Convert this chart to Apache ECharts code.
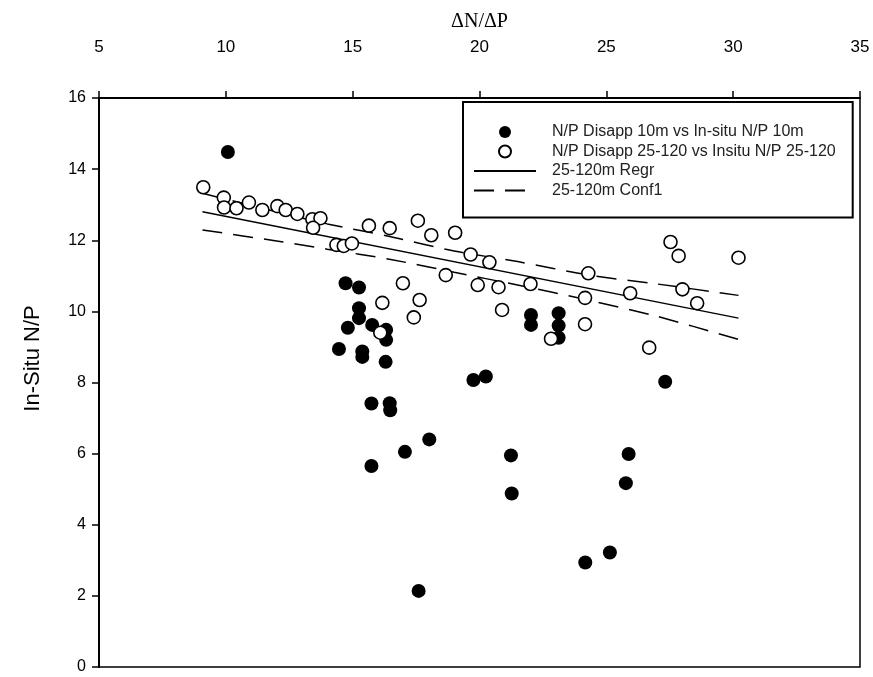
<!DOCTYPE html>
<html><head><meta charset="utf-8">
<script src="https://cdn.jsdelivr.net/npm/echarts@6/dist/echarts.min.js"></script>
<style>html,body{margin:0;padding:0;background:#fff}#c{width:873px;height:677px}</style>
</head><body><div id="c"></div>
<script>
// x tick range / y tick range
const xTicks = [5, 10, 15, 20, 25, 30, 35];
const yTicks = [0, 2, 4, 6, 8, 10, 12, 14, 16];

// N/P Disapp 10m vs In-situ N/P 10m (filled)
const surfX = [10.08,14.72,15.25,15.25,15.25,14.81,15.77,16.32,16.32,14.46,15.38,15.38,16.30,22.03,22.03,23.12,23.12,23.12,19.76,20.25,15.74,16.46,16.48,18.02,17.06,15.74,21.24,21.27,25.88,25.77,24.17,25.14,17.60,27.32];
const surfY = [14.48,10.79,10.67,10.09,9.81,9.54,9.62,9.48,9.20,8.94,8.87,8.72,8.58,9.90,9.62,9.95,9.60,9.26,8.07,8.17,7.41,7.42,7.22,6.40,6.05,5.65,5.95,4.88,5.99,5.17,2.94,3.22,2.14,8.02];

// N/P Disapp 25-120 vs Insitu N/P 25-120 (open)
const deepX = [9.11,9.92,9.93,10.42,10.91,11.44,12.03,12.36,12.82,13.41,13.73,13.44,14.36,14.65,14.97,15.64,16.46,17.57,18.10,19.04,19.65,20.39,18.67,19.93,20.75,16.98,16.17,17.64,17.41,20.89,16.09,22.01,24.29,24.16,25.94,28.00,28.58,27.53,27.85,30.21,24.16,22.82,26.69];
const deepY = [13.49,13.20,12.92,12.90,13.06,12.85,12.96,12.85,12.74,12.59,12.62,12.35,11.87,11.84,11.91,12.41,12.34,12.55,12.14,12.21,11.60,11.38,11.02,10.74,10.68,10.79,10.24,10.32,9.83,10.04,9.40,10.77,11.07,10.38,10.51,10.62,10.23,11.95,11.56,11.51,9.64,9.23,8.98];

// 25-120m regression and confidence band
const regrX = [9.08, 30.21];
const regrY = [12.80, 9.81];
const confX = [9.08, 12.0, 14.0, 16.5, 19.0, 21.5, 24.33, 27.0, 30.21];
const confUpY = [13.32, 12.80, 12.46, 12.10, 11.70, 11.40, 11.02, 10.77, 10.45];
const confLoY = [12.29, 11.98, 11.75, 11.46, 11.10, 10.74, 10.31, 9.86, 9.21];

const names = ['N/P Disapp 10m vs In-situ N/P 10m', 'N/P Disapp 25-120 vs Insitu N/P 25-120', '25-120m Regr', '25-120m Conf1'];
const zip = (a, b) => a.map((v, i) => [v, b[i]]);

const SANS = 'Liberation Sans, Arial, sans-serif';
const chart = echarts.init(document.getElementById('c'), null, {renderer: 'canvas'});
chart.setOption({
  animation: false,
  backgroundColor: '#fff',
  grid: {left: 99, right: 13, top: 98, bottom: 10, show: true, borderColor: '#000', borderWidth: 1.5, backgroundColor: 'transparent'},
  xAxis: {
    type: 'value', position: 'top', min: xTicks[0], max: xTicks[xTicks.length - 1], interval: 5,
    name: 'ΔN/ΔP', nameLocation: 'middle', nameGap: 66,
    nameTextStyle: {fontFamily: 'Liberation Serif, Times New Roman, serif', fontSize: 20, color: '#000'},
    axisLine: {onZero: false, lineStyle: {color: '#000', width: 2}},
    axisTick: {inside: false, length: 7, lineStyle: {color: '#000', width: 1.5}},
    axisLabel: {fontFamily: SANS, fontSize: 17, color: '#000', margin: 42},
    splitLine: {show: false}
  },
  yAxis: {
    type: 'value', min: yTicks[0], max: yTicks[yTicks.length - 1], interval: 2,
    name: 'In-Situ N/P', nameLocation: 'middle', nameGap: 55,
    nameTextStyle: {fontFamily: SANS, fontSize: 22, color: '#000', padding: [0, 0, 0, 48]},
    axisLine: {onZero: false, lineStyle: {color: '#000', width: 2}},
    axisTick: {inside: false, length: 7, lineStyle: {color: '#000', width: 1.5}},
    axisLabel: {fontFamily: SANS, fontSize: 16, color: '#000', margin: 13},
    splitLine: {show: false}
  },
  legend: {
    data: names, orient: 'vertical', left: 463, top: 102,
    itemWidth: 62, itemHeight: 12, itemGap: 3.5,
    padding: [22, 17, 19, 10], borderColor: '#000', borderWidth: 2, backgroundColor: '#fff',
    textStyle: {fontFamily: SANS, fontSize: 16, color: '#222', lineHeight: 14, padding: [0, 0, 0, 11]},
    selectedMode: false
  },
  series: [
    {name: names[2], type: 'line', z: 1, symbol: 'none', data: zip(regrX, regrY), lineStyle: {color: '#000', width: 1.5}, itemStyle: {color: 'rgba(0,0,0,0)', borderWidth: 0}},
    {name: names[3], type: 'line', z: 1, symbol: 'none', smooth: 0.3, data: zip(confX, confUpY), lineStyle: {color: '#000', width: 1.5, type: [20, 11]}, itemStyle: {color: 'rgba(0,0,0,0)', borderWidth: 0}},
    {name: names[3], type: 'line', z: 1, symbol: 'none', smooth: 0.3, data: zip(confX, confLoY), lineStyle: {color: '#000', width: 1.5, type: [20, 11]}, itemStyle: {color: 'rgba(0,0,0,0)', borderWidth: 0}},
    {name: names[0], type: 'scatter', z: 2, symbol: 'circle', symbolSize: 14, data: zip(surfX, surfY), itemStyle: {color: '#000', opacity: 1}},
    {name: names[1], type: 'scatter', z: 3, symbol: 'circle', symbolSize: 13, data: zip(deepX, deepY), itemStyle: {color: '#fff', borderColor: '#000', borderWidth: 1.6, opacity: 1}}
  ]
});
</script></body></html>
